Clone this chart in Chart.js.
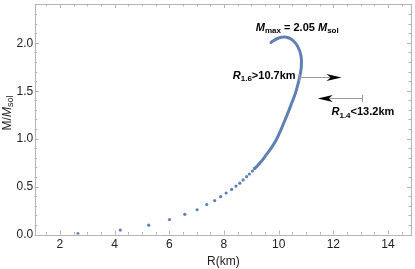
<!DOCTYPE html>
<html>
<head>
<meta charset="utf-8">
<script src="https://cdn.jsdelivr.net/npm/chart.js@4/dist/chart.umd.min.js"></script>
<style>
  html, body { margin: 0; padding: 0; background: #fff; }
  #c { display: block; }
</style>
</head>
<body>
<canvas id="c" width="415" height="269"></canvas>
<script>
// sparse outer dots (low mass end)
const dotR = [2.66, 4.21, 5.25, 6.01, 6.57, 7.02, 7.37, 7.66, 7.88, 8.08, 8.28, 8.44, 8.58, 8.70, 8.83, 8.93, 9.04, 9.12];
const dotM = [0.01, 0.046, 0.097, 0.156, 0.21, 0.258, 0.313, 0.354, 0.395, 0.433, 0.470, 0.505, 0.535, 0.569, 0.603, 0.631, 0.662, 0.689];
// dense part of the sequence, points so close they read as a line
const curveR = [9.12, 9.21, 9.37, 9.52, 9.70, 9.90, 10.08, 10.27, 10.45, 10.62, 10.75, 10.83, 10.82, 10.70, 10.50, 10.25, 10.00, 9.72];
const curveM = [0.689, 0.713, 0.764, 0.82, 0.89, 0.98, 1.09, 1.22, 1.35, 1.48, 1.62, 1.75, 1.86, 1.96, 2.03, 2.06, 2.05, 2.005];

const xTicks = [2, 4, 6, 8, 10, 12, 14];
const yTicks = [0, 0.5, 1.0, 1.5, 2.0];
const xMinor = 0.5, yMinor = 0.1;

// constraint arrows: [y, bar x, arrow tip x]
const arrow16 = [1.64, 10.73, 12.3];
const arrow14 = [1.42, 13.03, 11.43];

const blue = '#5e81b5';
const frameCol = '#b4b4b4';
const font = '"Liberation Sans", Arial, sans-serif';

const pts = (xs, ys) => xs.map((x, i) => ({ x: x, y: ys[i] }));

function rich(ctx, parts, x, y, align) {
    let w = 0;
    parts.forEach(p => { ctx.font = p.f; w += ctx.measureText(p.t).width; });
    let cx = align === 'right' ? x - w : align === 'center' ? x - w / 2 : x;
    ctx.textBaseline = 'middle';
    ctx.textAlign = 'left';
    parts.forEach(p => {
        ctx.font = p.f;
        ctx.fillText(p.t, cx, y + (p.dy || 0));
        cx += ctx.measureText(p.t).width;
    });
}

function arrowHead(ctx, tipX, y, dir) {
    const L = 15, H = 3.6, notch = 4;
    ctx.beginPath();
    ctx.moveTo(tipX, y);
    ctx.lineTo(tipX - dir * L, y - H);
    ctx.lineTo(tipX - dir * (L - notch), y);
    ctx.lineTo(tipX - dir * L, y + H);
    ctx.closePath();
    ctx.fill();
}

const extras = {
    id: 'extras',
    beforeDatasetsDraw(chart) {
        const ctx = chart.ctx, a = chart.chartArea;
        const xs = chart.scales.x, ys = chart.scales.y;
        ctx.save();
        ctx.strokeStyle = frameCol;
        ctx.lineWidth = 1;
        ctx.strokeRect(Math.round(a.left) + 0.5, Math.round(a.top) + 0.5,
            Math.round(a.right - a.left), Math.round(a.bottom - a.top));
        ctx.beginPath();
        // ticks point inward on all four sides
        for (let v = Math.ceil(xs.min / xMinor) * xMinor; v <= xs.max; v += xMinor) {
            const px = Math.round(xs.getPixelForValue(v)) + 0.5;
            const major = Math.abs(v / 2 - Math.round(v / 2)) < 1e-6;
            const len = major ? 4 : 2.5;
            ctx.moveTo(px, a.bottom); ctx.lineTo(px, a.bottom - len);
            ctx.moveTo(px, a.top); ctx.lineTo(px, a.top + len);
        }
        for (let v = 0; v <= ys.max + 1e-9; v += yMinor) {
            const py = Math.round(ys.getPixelForValue(v)) + 0.5;
            const major = Math.abs(v / 0.5 - Math.round(v / 0.5)) < 1e-6;
            const len = major ? 4 : 2.5;
            ctx.moveTo(a.left, py); ctx.lineTo(a.left + len, py);
            ctx.moveTo(a.right, py); ctx.lineTo(a.right - len, py);
        }
        ctx.stroke();
        // tick labels
        ctx.fillStyle = '#222';
        ctx.font = '12px ' + font;
        ctx.textAlign = 'center';
        ctx.textBaseline = 'middle';
        xTicks.forEach(v => ctx.fillText(String(v), xs.getPixelForValue(v), a.bottom + 10));
        ctx.textAlign = 'right';
        yTicks.forEach(v => ctx.fillText(v.toFixed(1), a.left - 1.5, ys.getPixelForValue(v) + 0.5));
        ctx.restore();
    },
    afterDatasetsDraw(chart) {
        const ctx = chart.ctx, a = chart.chartArea;
        const xs = chart.scales.x, ys = chart.scales.y;
        ctx.save();
        // arrows
        [[arrow16, 1], [arrow14, -1]].forEach(([ar, dir]) => {
            const py = Math.round(ys.getPixelForValue(ar[0])) + 0.5;
            const bx = Math.round(xs.getPixelForValue(ar[1])) + 0.5;
            const tx = xs.getPixelForValue(ar[2]);
            ctx.strokeStyle = '#999';
            ctx.lineWidth = 1;
            ctx.beginPath();
            ctx.moveTo(bx, py); ctx.lineTo(tx - dir * 10, py);
            ctx.moveTo(bx, py - 3.5); ctx.lineTo(bx, py + 3.5);
            ctx.stroke();
            ctx.fillStyle = '#000';
            arrowHead(ctx, tx, py, dir);
        });
        ctx.fillStyle = '#000';
        const B = 'bold 11px ' + font;
        const BI = 'italic bold 11px ' + font;
        const S = 'bold 8px ' + font;
        const y16 = ys.getPixelForValue(arrow16[0]);
        const y14 = ys.getPixelForValue(arrow14[0]);
        rich(ctx, [{ t: 'R', f: BI }, { t: '1.6', f: S, dy: 3 }, { t: '>10.7km', f: B }],
            xs.getPixelForValue(arrow16[1]) - 3, y16 - 1.5, 'right');
        rich(ctx, [{ t: 'R', f: BI }, { t: '1.4', f: S, dy: 3 }, { t: '<13.2km', f: B }],
            xs.getPixelForValue(arrow14[1]) - 30, y14 + 14, 'left');
        rich(ctx, [{ t: 'M', f: BI }, { t: 'max', f: S, dy: 3 }, { t: ' = 2.05 ', f: B },
            { t: 'M', f: BI }, { t: 'sol', f: S, dy: 3 }],
            xs.getPixelForValue(10.68), ys.getPixelForValue(2.16), 'center');
        // axis titles
        ctx.fillStyle = '#222';
        const R = '12px ' + font;
        const RI = 'italic 12px ' + font;
        const RS = '9px ' + font;
        rich(ctx, [{ t: 'R(km)', f: R }], (a.left + a.right) / 2 + 0.5, 262, 'center');
        ctx.translate(8, 113);
        ctx.rotate(-Math.PI / 2);
        rich(ctx, [{ t: 'M/', f: R }, { t: 'M', f: RI }, { t: 'sol', f: RS, dy: 3 }], 0, 0, 'center');
        ctx.restore();
    }
};

new Chart(document.getElementById('c'), {
    type: 'scatter',
    data: {
        datasets: [{
            data: pts(dotR, dotM),
            backgroundColor: blue,
            borderWidth: 0,
            pointRadius: 1.6
        }, {
            data: pts(curveR, curveM),
            showLine: true,
            borderColor: blue,
            borderWidth: 3,
            tension: 0.4,
            pointRadius: 0,
            borderCapStyle: 'round'
        }]
    },
    options: {
        responsive: false,
        animation: false,
        layout: { padding: { top: 0, right: 2, left: 0, bottom: 0 } },
        plugins: { legend: { display: false }, tooltip: { enabled: false } },
        scales: {
            x: {
                type: 'linear', min: 1.08, max: 14.84,
                afterBuildTicks: s => { s.ticks = xTicks.map(v => ({ value: v })); },
                afterFit: s => { s.height = 34.5; s.paddingLeft = 0; s.paddingRight = 0; },
                grid: { display: false, drawTicks: false },
                border: { display: false },
                ticks: { display: false }
            },
            y: {
                type: 'linear', min: 0, max: 2.405,
                afterBuildTicks: s => { s.ticks = yTicks.map(v => ({ value: v })); },
                afterFit: s => { s.width = 34.7; s.paddingTop = 0; s.paddingBottom = 0; },
                grid: { display: false, drawTicks: false },
                border: { display: false },
                ticks: { display: false }
            }
        }
    },
    plugins: [extras]
});
</script>
</body>
</html>
